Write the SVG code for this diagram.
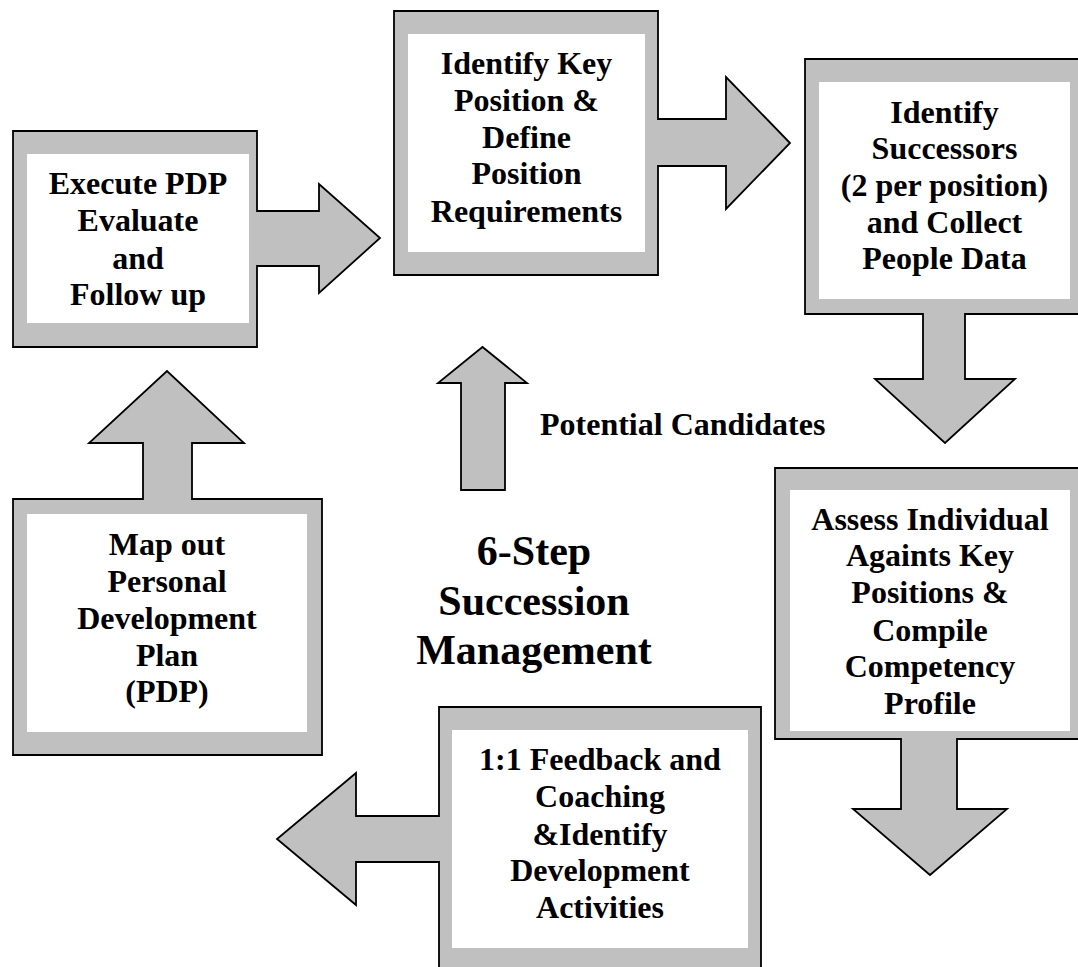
<svg xmlns="http://www.w3.org/2000/svg" width="1078" height="967" viewBox="0 0 1078 967">
<style>
.shape{fill:#c0c0c0;stroke:#000;stroke-width:1.8;stroke-linejoin:miter}
.inner{fill:#fff;stroke:none}
.t{font-family:"Liberation Serif","Times New Roman",serif;font-weight:bold;font-size:32px;fill:#000;text-anchor:middle}
.title{font-size:42px}
.lbl{text-anchor:start}
</style>
<rect x="0" y="0" width="1078" height="967" fill="#fff"/>

<g id="node-execute">
<path class="shape" d="M13,131 L257,131 L257,211 L319,211 L319,184 L380,238 L319,293 L319,266 L257,266 L257,347 L13,347 Z"/>
<rect class="inner" x="27" y="154" width="222" height="169"/>
<text class="t" x="138"><tspan x="138" y="194">Execute PDP</tspan><tspan x="138" y="231">Evaluate</tspan><tspan x="138" y="269">and</tspan><tspan x="138" y="305">Follow up</tspan></text>
</g>

<g id="node-identify-key">
<path class="shape" d="M394,11 L658,11 L658,119 L726,119 L726,77 L790,143 L726,209 L726,166 L658,166 L658,275 L394,275 Z"/>
<rect class="inner" x="408" y="34" width="237" height="218"/>
<text class="t"><tspan x="526.5" y="74">Identify Key</tspan><tspan x="526.5" y="111">Position &amp;</tspan><tspan x="526.5" y="148">Define</tspan><tspan x="526.5" y="184">Position</tspan><tspan x="526.5" y="222">Requirements</tspan></text>
</g>

<g id="node-successors">
<path class="shape" d="M805,59 L1086,59 L1086,314 L965,314 L965,379 L1015,379 L945,443 L875,379 L923,379 L923,314 L805,314 Z"/>
<rect class="inner" x="819" y="82" width="251" height="217"/>
<text class="t"><tspan x="944.5" y="123">Identify</tspan><tspan x="944.5" y="159">Successors</tspan><tspan x="944.5" y="196">(2 per position)</tspan><tspan x="944.5" y="233">and Collect</tspan><tspan x="944.5" y="269">People Data</tspan></text>
</g>

<g id="node-assess">
<path class="shape" d="M775,468 L1086,468 L1086,739 L957,739 L957,809 L1007,809 L930,875 L853,809 L901,809 L901,739 L775,739 Z"/>
<rect class="inner" x="790" y="490" width="280" height="241"/>
<text class="t"><tspan x="930" y="530">Assess Individual</tspan><tspan x="930" y="566">Againts Key</tspan><tspan x="930" y="603">Positions &amp;</tspan><tspan x="930" y="641">Compile</tspan><tspan x="930" y="677">Competency</tspan><tspan x="930" y="714">Profile</tspan></text>
</g>

<g id="node-feedback">
<path class="shape" d="M439,707 L761,707 L761,980 L439,980 L439,862 L356,862 L356,905 L277,839 L356,773 L356,816 L439,816 Z"/>
<rect class="inner" x="452" y="730" width="296" height="218"/>
<text class="t"><tspan x="600" y="770">1:1 Feedback and</tspan><tspan x="600" y="807">Coaching</tspan><tspan x="600" y="845">&amp;Identify</tspan><tspan x="600" y="881">Development</tspan><tspan x="600" y="918">Activities</tspan></text>
</g>

<g id="node-map-pdp">
<path class="shape" d="M13,499 L143,499 L143,443 L89,443 L167,371 L244,443 L192,443 L192,499 L322,499 L322,755 L13,755 Z"/>
<rect class="inner" x="27" y="514" width="280" height="218"/>
<text class="t"><tspan x="167" y="555">Map out</tspan><tspan x="167" y="592">Personal</tspan><tspan x="167" y="629">Development</tspan><tspan x="167" y="666">Plan</tspan><tspan x="167" y="702">(PDP)</tspan></text>
</g>

<g id="title">
<text class="t title"><tspan x="534" y="565">6-Step</tspan><tspan x="534" y="615">Succession</tspan><tspan x="534" y="664">Management</tspan></text>
</g>

<g id="connectors">
<path class="shape" d="M461,490 L461,383 L438,383 L482.5,347 L527,383 L505,383 L505,490 Z"/>
<text class="t lbl" x="540" y="435">Potential Candidates</text>
</g>
</svg>
